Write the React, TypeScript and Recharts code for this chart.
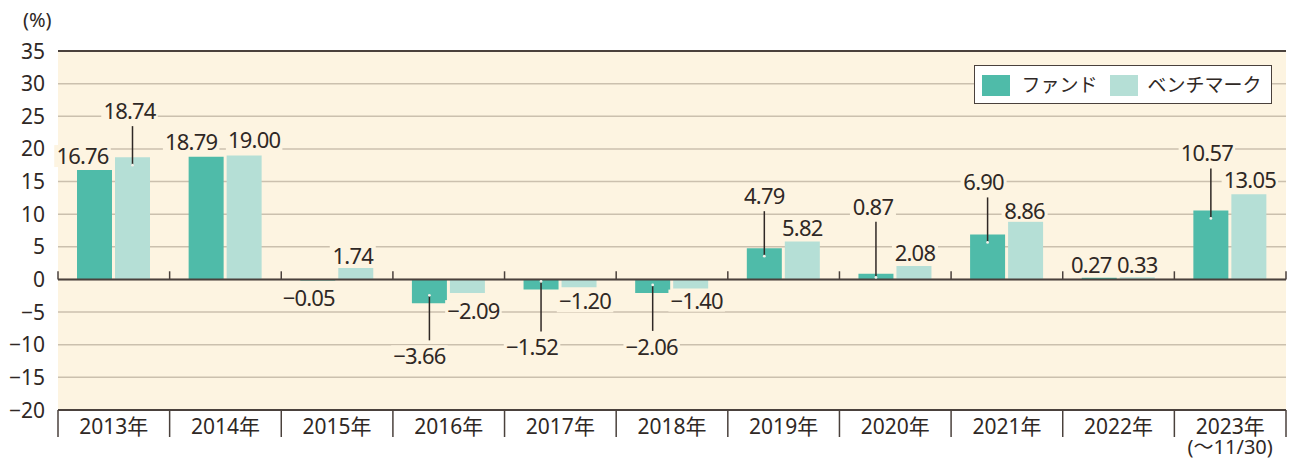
import React from "react";
import {
  Bar,
  BarChart,
  CartesianGrid,
  LabelList,
  ReferenceLine,
  XAxis,
  YAxis,
} from "recharts";

const years = [
  "2013年",
  "2014年",
  "2015年",
  "2016年",
  "2017年",
  "2018年",
  "2019年",
  "2020年",
  "2021年",
  "2022年",
  "2023年",
];
const lastYearNote = "(〜11/30)";
const fundValues = [16.76, 18.79, -0.05, -3.66, -1.52, -2.06, 4.79, 0.87, 6.9, 0.27, 10.57];
const benchmarkValues = [18.74, 19.0, 1.74, -2.09, -1.2, -1.4, 5.82, 2.08, 8.86, 0.33, 13.05];
const yTicks = [-20, -15, -10, -5, 0, 5, 10, 15, 20, 25, 30, 35];
const seriesNames = ["ファンド", "ベンチマーク"];
const unitLabel = "(%)";

// label placement relative to bar end: [dx, dy, leader line]
const fundLabelPos: [number, number, boolean][] = [
  [-12, -14, false],
  [-15, -15, false],
  [-9, 18, false],
  [-10, 53, true],
  [-9, 58, true],
  [-1, 54, true],
  [0, -52, true],
  [-3, -67, true],
  [-4, -52, true],
  [-8, -13, false],
  [-4, -57, true],
];
const benchLabelPos: [number, number, boolean][] = [
  [-3, -46, true],
  [10, -15, false],
  [-3, -12, false],
  [6, 18, false],
  [6, 14, false],
  [6, 12, false],
  [0, -13, false],
  [1, -13, false],
  [-1, -11, false],
  [0, -12, false],
  [1, -14, false],
];

const BG = "#FDF4E1";
const FUND = "#4FBBA9";
const BENCH = "#B5DFD6";
const GRID = "#CBC0AE";
const DARK = "#4A413C";
const TEXT = "#2F2825";
const FONT = '"Noto Sans", "Noto Sans CJK JP", sans-serif';

const data = years.map((year, i) => ({
  year,
  fund: fundValues[i],
  bench: benchmarkValues[i],
}));

const fmt = (v: number) => v.toFixed(2).replace("-", "−");

const makeLabel = (pos: [number, number, boolean][]) => (props: any) => {
  const { x, y, width, height, value, index } = props;
  if (value == null || pos[index] == null) return null;
  const [dx, dy, leader] = pos[index];
  const cx = Number(x) + Number(width) / 2;
  const top = Math.min(Number(y), Number(y) + Number(height));
  const bottom = Math.max(Number(y), Number(y) + Number(height));
  const h = bottom - top;
  const endY = value >= 0 ? top : bottom;
  const lx = cx + dx;
  const ly = endY + dy;
  const text = fmt(value);
  const w = text.length * 10.5 + 4;
  const inset = Math.min(8, Math.max(h - 2, 1));
  return (
    <g>
      {leader && (
        <g>
          <line
            x1={cx}
            x2={cx}
            y1={value >= 0 ? ly + 15 : ly - 16}
            y2={value >= 0 ? endY + inset : endY - inset}
            stroke={TEXT}
            strokeWidth={1.5}
          />
          <circle cx={cx} cy={value >= 0 ? endY + inset : endY - inset} r={1.4} fill="#F4F1EA" />
        </g>
      )}
      <rect x={lx - w / 2} y={ly - 11} width={w} height={22} fill={BG} />
      <text
        x={lx}
        y={ly}
        dy="0.36em"
        textAnchor="middle"
        fontSize={22}
        letterSpacing={-0.8}
        fill={TEXT}
        fontFamily={FONT}
      >
        {text}
      </text>
    </g>
  );
};

const YTick = (props: any) => {
  const { y, payload } = props;
  return (
    <text
      x={45}
      y={y}
      dy="0.36em"
      textAnchor="end"
      fontSize={21}
      fill={TEXT}
      fontFamily={FONT}
    >
      {String(payload.value).replace("-", "−")}
    </text>
  );
};

const XTick = (props: any) => {
  const { x, payload, index } = props;
  const half = payload.offset || (1286 - 58) / years.length / 2;
  const base = 410;
  const last = index === years.length - 1;
  return (
    <g>
      <line x1={x - half} x2={x - half} y1={base} y2={base + 27} stroke={DARK} strokeWidth={1.5} />
      {last && (
        <line x1={x + half} x2={x + half} y1={base} y2={base + 27} stroke={DARK} strokeWidth={1.5} />
      )}
      <text
        x={x}
        y={base + 16}
        dy="0.36em"
        textAnchor="middle"
        fontSize={21}
        fill={TEXT}
        fontFamily={FONT}
      >
        {payload.value}
      </text>
      {last && (
        <text
          x={x}
          y={base + 37}
          dy="0.36em"
          textAnchor="middle"
          fontSize={20}
          fill={TEXT}
          fontFamily={FONT}
        >
          {lastYearNote}
        </text>
      )}
    </g>
  );
};

export default function App() {
  return (
    <div
      style={{
        position: "absolute",
        left: 0,
        top: 0,
        width: 1295,
        height: 459,
        background: "#fff",
        fontFamily: FONT,
      }}
    >
      <BarChart
        width={1295}
        height={459}
        data={data}
        margin={{ top: 51, right: 9, bottom: 0, left: 0 }}
        barSize={35}
        barGap={3}
      >
        <CartesianGrid
          vertical={false}
          stroke={GRID}
          strokeWidth={1.5}
          fill={BG}
          fillOpacity={1}
        />
        <XAxis
          dataKey="year"
          interval={0}
          axisLine={false}
          tickLine={false}
          height={49}
          tick={<XTick />}
        />
        <YAxis
          type="number"
          domain={[-20, 35]}
          ticks={yTicks}
          axisLine={false}
          tickLine={false}
          width={58}
          tick={<YTick />}
        />
        <ReferenceLine y={35} stroke={DARK} strokeWidth={2} />
        <ReferenceLine y={-20} stroke={DARK} strokeWidth={2} />
        {years.map((yr) => (
          <ReferenceLine
            key={"z" + yr}
            segment={[
              { x: yr, y: 0 },
              { x: yr, y: 1.25 },
            ]}
            position="start"
            ifOverflow="visible"
            stroke={DARK}
            strokeWidth={1.5}
          />
        ))}
        <ReferenceLine
          segment={[
            { x: years[years.length - 1], y: 0 },
            { x: years[years.length - 1], y: 1.25 },
          ]}
          position="end"
          ifOverflow="visible"
          stroke={DARK}
          strokeWidth={1.5}
        />
        <Bar dataKey="fund" fill={FUND} minPointSize={1} isAnimationActive={false}>
          <LabelList dataKey="fund" content={makeLabel(fundLabelPos)} />
        </Bar>
        <Bar dataKey="bench" fill={BENCH} minPointSize={1} isAnimationActive={false}>
          <LabelList dataKey="bench" content={makeLabel(benchLabelPos)} />
        </Bar>
        <ReferenceLine y={0} stroke={DARK} strokeWidth={2} />
      </BarChart>

      <div
        style={{
          position: "absolute",
          left: 23,
          top: 8,
          fontSize: 20,
          color: TEXT,
          lineHeight: "24px",
        }}
      >
        {unitLabel}
      </div>

      <div
        style={{
          position: "absolute",
          left: 974,
          top: 65,
          width: 298,
          height: 39,
          boxSizing: "border-box",
          border: `1.5px solid ${DARK}`,
          background: "#fff",
          fontSize: 19,
          color: TEXT,
        }}
      >
        <div style={{ position: "absolute", left: 6.5, top: 8.5, width: 28, height: 21, background: FUND }} />
        <div style={{ position: "absolute", left: 46.5, top: 5, lineHeight: "28px", whiteSpace: "nowrap" }}>
          {seriesNames[0]}
        </div>
        <div style={{ position: "absolute", left: 134.5, top: 8.5, width: 28, height: 21, background: BENCH }} />
        <div style={{ position: "absolute", left: 172.5, top: 5, lineHeight: "28px", whiteSpace: "nowrap" }}>
          {seriesNames[1]}
        </div>
      </div>
    </div>
  );
}
